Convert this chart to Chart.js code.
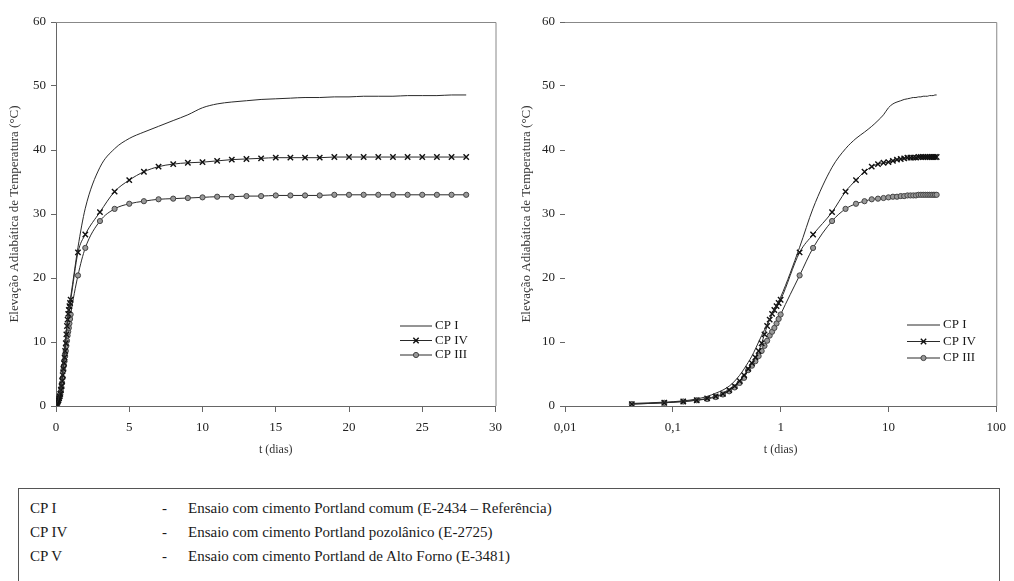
<!DOCTYPE html>
<html lang="pt">
<head>
<meta charset="utf-8">
<script src="https://cdn.jsdelivr.net/npm/chart.js@4.4.1/dist/chart.umd.min.js"></script>
<style>
  body { margin: 0; background: #fff; width: 1014px; height: 581px; overflow: hidden; position: relative; font-family: "Liberation Serif", serif; }
  .grafico { position: absolute; top: 0; height: 470px; }
  #esq { left: 0; width: 510px; }
  #dir { left: 510px; width: 504px; }
  .quadro { position: absolute; left: 18px; top: 488px; width: 982px; height: 120px; border: 1px solid #555; box-sizing: border-box; }
  .quadro div { position: absolute; font-size: 15px; color: #1a1a1a; line-height: 16px; white-space: nowrap; }
</style>
</head>
<body>
<div class="grafico" id="esq"><canvas id="graficoLinear"></canvas></div>
<div class="grafico" id="dir"><canvas id="graficoLog"></canvas></div>

<div class="quadro">
  <div style="left:11px; top:11px">CP I</div>
  <div style="left:143px; top:11px">-</div>
  <div style="left:169px; top:11px">Ensaio com cimento Portland comum (E-2434 – Referência)</div>
  <div style="left:11px; top:35px">CP IV</div>
  <div style="left:143px; top:35px">-</div>
  <div style="left:169px; top:35px">Ensaio com cimento Portland pozolânico (E-2725)</div>
  <div style="left:11px; top:59px">CP V</div>
  <div style="left:143px; top:59px">-</div>
  <div style="left:169px; top:59px">Ensaio com cimento Portland de Alto Forno (E-3481)</div>
</div>

<script>
// tempo das leituras, em horas
const tempoHoras = [0, 1, 2, 3, 4, 5, 6, 7, 8, 9, 10, 11, 12, 13, 14, 15, 16, 17, 18, 19, 20, 21, 22, 23, 24, 36,
  48, 72, 96, 120, 144, 168, 192, 216, 240, 264, 288, 312, 336, 360, 384, 408, 432, 456, 480, 504, 528, 552, 576, 600, 624, 648, 672];

// elevação adiabática de temperatura (°C)
const cpI = [0, 0.4, 0.6, 0.8, 1.1, 1.5, 2.0, 2.5, 3.1, 3.9, 4.8, 5.8, 6.8, 7.8, 8.9, 10.0, 11.0, 11.9, 12.8, 13.6, 14.4, 15.1, 15.8, 16.4, 17.0, 24.8,
  30.9, 37.3, 40.2, 41.8, 42.8, 43.7, 44.6, 45.5, 46.6, 47.2, 47.5, 47.7, 47.9, 48.0, 48.1, 48.2, 48.2, 48.3, 48.3, 48.4, 48.4, 48.4, 48.5, 48.5, 48.5, 48.6, 48.6];
const cpIV = [0, 0.3, 0.5, 0.7, 0.9, 1.2, 1.5, 1.9, 2.5, 3.1, 3.9, 4.8, 5.8, 6.7, 7.6, 8.6, 9.8, 11.2, 12.5, 13.5, 14.4, 15.0, 15.6, 16.1, 16.6, 24.0,
  26.8, 30.3, 33.5, 35.3, 36.6, 37.4, 37.8, 38.0, 38.1, 38.3, 38.5, 38.6, 38.7, 38.8, 38.8, 38.8, 38.8, 38.9, 38.9, 38.9, 38.9, 38.9, 38.9, 38.9, 38.9, 38.9, 38.9];
const cpIII = [0, 0.3, 0.5, 0.7, 0.9, 1.1, 1.4, 1.8, 2.3, 2.9, 3.6, 4.4, 5.6, 6.3, 7.0, 7.8, 8.6, 9.4, 10.2, 11.0, 11.6, 12.2, 12.9, 13.6, 14.3, 20.4,
  24.7, 28.9, 30.8, 31.6, 32.0, 32.3, 32.4, 32.5, 32.6, 32.7, 32.7, 32.8, 32.8, 32.9, 32.9, 32.9, 32.9, 33.0, 33.0, 33.0, 33.0, 33.0, 33.0, 33.0, 33.0, 33.0, 33.0];

const ticksLinear = [0, 5, 10, 15, 20, 25, 30];
const ticksLog = [0.01, 0.1, 1, 10, 100];

const fonte = '"Liberation Serif", "Times New Roman", serif';
const corEixo = '#666';
const corTexto = '#222';

// moldura (topo e direita) da área do gráfico
const molduraPlugin = {
  id: 'moldura',
  afterDraw(chart) {
    const { ctx, chartArea: a } = chart;
    ctx.save();
    ctx.strokeStyle = '#888';
    ctx.lineWidth = 1;
    ctx.beginPath();
    ctx.moveTo(a.left, a.top + 0.5);
    ctx.lineTo(a.right + 0.5, a.top + 0.5);
    ctx.lineTo(a.right + 0.5, a.bottom);
    ctx.stroke();
    ctx.restore();
  }
};

// legenda desenhada dentro da área do gráfico
const legendaPlugin = {
  id: 'legendaInterna',
  afterDraw(chart, args, opts) {
    const ctx = chart.ctx;
    chart.data.datasets.forEach((ds, i) => {
      const y = opts.y + i * opts.passo;
      ctx.save();
      ctx.strokeStyle = ds.borderColor;
      ctx.lineWidth = 1;
      ctx.beginPath();
      ctx.moveTo(opts.x, y);
      ctx.lineTo(opts.x + opts.comp, y);
      ctx.stroke();
      if (ds.pointRadius > 0) {
        ctx.fillStyle = ds.pointBackgroundColor;
        ctx.strokeStyle = ds.pointBorderColor;
        ctx.lineWidth = ds.pointBorderWidth;
        Chart.helpers.drawPoint(ctx, { pointStyle: ds.pointStyle, radius: ds.pointRadius, rotation: 0, borderWidth: ds.pointBorderWidth }, opts.x + opts.comp / 2, y);
      }
      ctx.fillStyle = '#1a1a1a';
      ctx.font = '13px ' + fonte;
      ctx.textBaseline = 'middle';
      ctx.fillText(ds.label, opts.x + opts.comp + 3, y);
      ctx.restore();
    });
  }
};

function montarSeries(apenasPositivos) {
  const pontos = (valores) => tempoHoras
    .map((h, i) => ({ x: h / 24, y: valores[i] }))
    .filter(p => !apenasPositivos || p.x > 0);
  return [
    { label: 'CP I', data: pontos(cpI), borderColor: '#2a2a2a', borderWidth: 1, pointRadius: 0, cubicInterpolationMode: 'monotone' },
    { label: 'CP IV', data: pontos(cpIV), borderColor: '#2a2a2a', borderWidth: 1, cubicInterpolationMode: 'monotone',
      pointStyle: 'crossRot', pointRadius: 3.8, pointBorderWidth: 1.4, pointBorderColor: '#111', pointBackgroundColor: '#111' },
    { label: 'CP III', data: pontos(cpIII), borderColor: '#2a2a2a', borderWidth: 1, cubicInterpolationMode: 'monotone',
      pointStyle: 'circle', pointRadius: 2.6, pointBorderWidth: 1, pointBorderColor: '#444', pointBackgroundColor: '#999' }
  ];
}

function eixoY(larguraEixo, paddingTitulo, mostrarLinha) {
  return {
    min: 0,
    max: 60,
    ticks: { stepSize: 10, padding: 5, color: corTexto, font: { family: fonte, size: 13 } },
    grid: { drawOnChartArea: false, tickLength: 5, color: corEixo },
    border: { display: mostrarLinha, color: corEixo },
    title: { display: true, text: 'Elevação Adiabática de Temperatura (°C)', color: '#333',
      font: { family: fonte, size: 13 }, padding: { top: paddingTitulo, bottom: 0 } },
    afterFit: (s) => { s.width = larguraEixo; }
  };
}

function eixoX(tipo, min, max, marcas, formato) {
  return {
    type: tipo,
    min: min,
    max: max,
    afterBuildTicks: (s) => { s.ticks = marcas.map(v => ({ value: v })); },
    ticks: { padding: 8, color: corTexto, font: { family: fonte, size: 13 }, autoSkip: false, maxRotation: 0, callback: formato },
    grid: { drawOnChartArea: false, tickLength: 6, color: corEixo },
    border: { color: corEixo },
    title: { display: true, text: 't (dias)', color: '#333', font: { family: fonte, size: 12 }, padding: { top: 0, bottom: 13 } },
    afterFit: (s) => { s.height = 64; }
  };
}

new Chart(document.getElementById('graficoLinear'), {
  type: 'line',
  data: { datasets: montarSeries(false) },
  options: {
    responsive: true,
    maintainAspectRatio: false,
    animation: false,
    layout: { padding: { top: 22, right: 12, bottom: 0, left: 0 } },
    scales: {
      x: eixoX('linear', 0, 30, ticksLinear, v => String(v)),
      y: eixoY(56, 7, true)
    },
    plugins: {
      legend: { display: false },
      tooltip: { enabled: false },
      legendaInterna: { x: 400, y: 326, passo: 14.5, comp: 32 }
    }
  },
  plugins: [molduraPlugin, legendaPlugin]
});

new Chart(document.getElementById('graficoLog'), {
  type: 'line',
  data: { datasets: montarSeries(true) },
  options: {
    responsive: true,
    maintainAspectRatio: false,
    animation: false,
    layout: { padding: { top: 22, right: 9, bottom: 0, left: 0 } },
    scales: {
      x: eixoX('logarithmic', 0.01, 100, ticksLog, v => String(v).replace('.', ',')),
      y: eixoY(55, 9, false)
    },
    plugins: {
      legend: { display: false },
      tooltip: { enabled: false },
      legendaInterna: { x: 397, y: 325, passo: 16.5, comp: 33 }
    }
  },
  plugins: [molduraPlugin, legendaPlugin]
});
</script>
</body>
</html>
